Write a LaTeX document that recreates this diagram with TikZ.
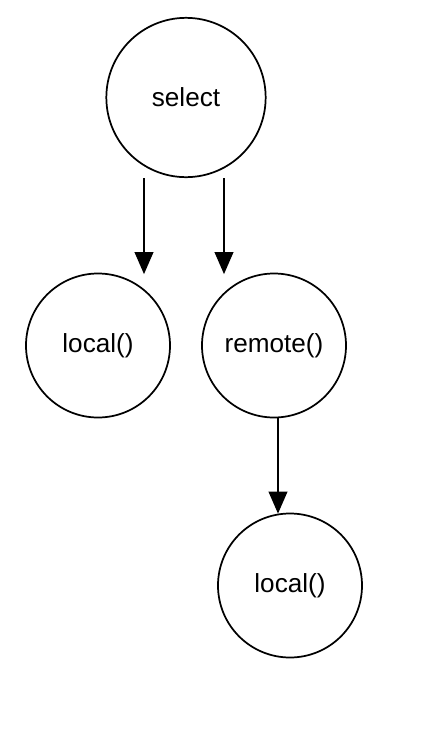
\documentclass[tikz,border=0pt]{standalone}
\usepackage{fontspec}
\setmainfont{Liberation Sans}
\usetikzlibrary{arrows.meta,calc}
\definecolor{LineClr}{rgb}{0,0,0}

\begin{document}
\begin{tikzpicture}[x=0.75pt,y=-0.75pt,
  call/.style={circle,draw=LineClr,line width=1.3pt,inner sep=0pt,minimum size=108pt,font=\fontsize{19.6}{22}\selectfont},
  flow/.style={draw=LineClr,line width=1.3pt,-{Triangle[width=14pt,length=16.5pt]}}]
\useasboundingbox (0,0) rectangle (436,740);

\node[call,minimum size=119.5pt] (select) at (186,97.5) {select};
\node[call] (localA) at (98,345.5) {local()};
\node[call] (remote) at (274,345.5) {remote()};
\node[call] (localB) at (290,585.5) {local()};

\coordinate (x1) at (144,0);
\coordinate (x2) at (224,0);
\coordinate (x3) at (278,0);

\draw[flow] (select.south -| x1) -- ($(localA.north -| x1)+(0,1.5)$);
\draw[flow] (select.south -| x2) -- ($(remote.north -| x2)+(0,1.5)$);
\draw[flow] (remote.south -| x3) -- ($(localB.north -| x3)+(0,1)$);

\end{tikzpicture}
\end{document}
